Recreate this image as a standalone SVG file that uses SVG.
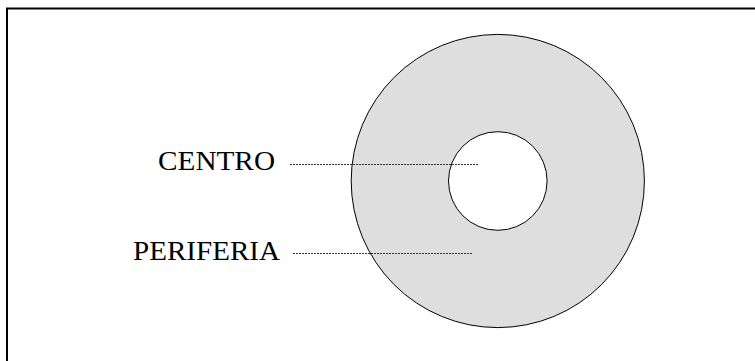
<svg xmlns="http://www.w3.org/2000/svg" width="755" height="361" viewBox="0 0 755 361">
<style>
.frame{fill:none;stroke:#000;stroke-width:2}
.ring{stroke:#000;stroke-width:1}
.lbl{font-family:"Liberation Serif","Times New Roman",serif;font-size:27px;fill:#000}
.lead{stroke:#333;stroke-width:1;stroke-dasharray:2 1;fill:none}
</style>
<path class="frame" d="M7,362 V8.5 H756"/>
<g id="periferia-node">
<circle class="ring" cx="497.8" cy="181" r="146.6" fill="#dedede"/>
</g>
<g id="centro-node">
<circle class="ring" cx="497.8" cy="181" r="49.3" fill="#fff"/>
</g>
<g id="labels">
<text class="lbl" x="158" y="170" textLength="117" lengthAdjust="spacingAndGlyphs">CENTRO</text>
<text class="lbl" x="133" y="260" textLength="147" lengthAdjust="spacingAndGlyphs">PERIFERIA</text>
</g>
<g id="connectors">
<line class="lead" x1="290" y1="164.5" x2="478" y2="164.5"/>
<line class="lead" x1="293" y1="253.5" x2="472" y2="253.5"/>
</g>
</svg>
